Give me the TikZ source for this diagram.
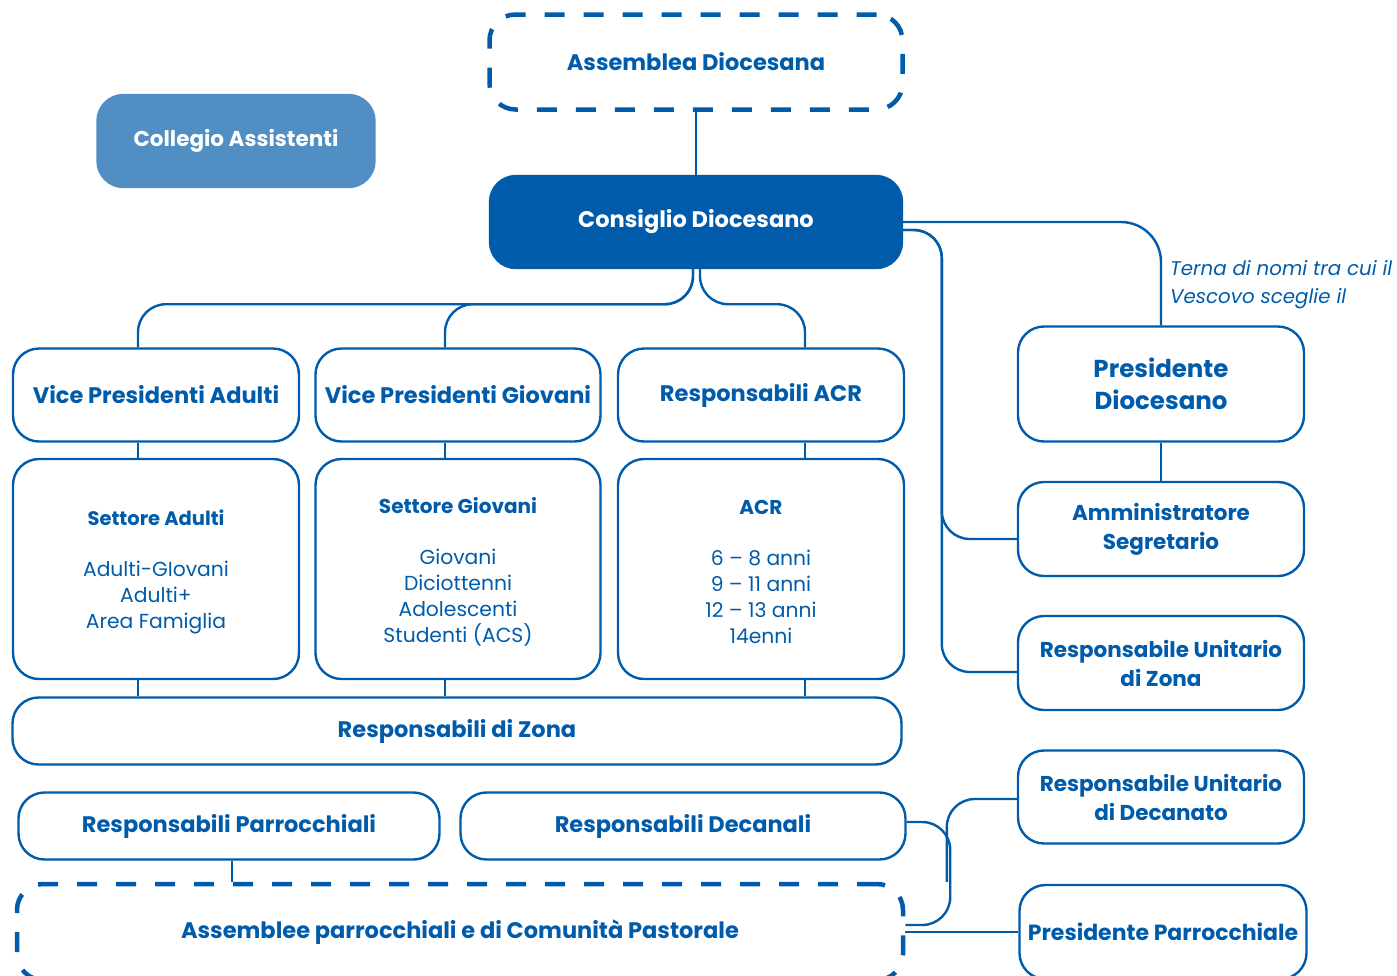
\documentclass[tikz,border=0pt]{standalone}
\usepackage{fontspec}
\setmainfont{Poppins}
\usetikzlibrary{positioning}
\definecolor{acblu}{RGB}{0,91,170}
\definecolor{accel}{RGB}{80,142,196}

\begin{document}
\begin{tikzpicture}[x=1pt, y=-1pt,
    box/.style={draw=acblu, line width=2.4pt, rounded corners=26pt, text=acblu, align=center, inner sep=0pt,
      font=\bfseries\fontsize{22.5}{28}\selectfont},
    sett/.style={box, font=\fontsize{20.3}{26}\selectfont},
    dashbox/.style={box, line width=4.5pt, dash pattern=on 20pt off 19pt},
    fullbox/.style={box, fill=acblu, text=white},
    conn/.style={draw=acblu, line width=2.4pt, rounded corners=28pt}]
  \path[use as bounding box] (0,0) rectangle (1397,975);
  \clip (0,0) rectangle (1397,975);

  %top
  \node[dashbox, minimum width=413pt, minimum height=95pt] (assd) at (696,62) {Assemblea Diocesana};
  \node[fullbox, fill=accel, draw=accel, minimum width=277pt, minimum height=92pt, font=\bfseries\fontsize{21.5}{28}\selectfont] (coll) at (236,141) {Collegio Assistenti};
  \node[fullbox, minimum width=412pt, minimum height=92pt] (cons) at (696,222) {Consiglio Diocesano};

  %vice presidenti
  \node[box, minimum width=286pt, minimum height=93pt] (vpa) at (156,395) {Vice Presidenti Adulti};
  \node[box, minimum width=285pt, minimum height=93pt] (vpg) at (458,395) {Vice Presidenti Giovani};
  \node[box, minimum width=286pt, minimum height=93pt] (racr) at (761,395) {Responsabili ACR};

  %settori
  \node[sett, minimum width=286pt, minimum height=220pt] (sa) at (156,569)
    {\textbf{\fontsize{19.5}{26}\selectfont\rule{0pt}{21pt}Settore Adulti}\\[25pt]Adulti-GIovani\\Adulti+\\Area Famiglia};
  \node[sett, minimum width=285pt, minimum height=220pt] (sg) at (458,569)
    {\textbf{\fontsize{20}{26}\selectfont\rule{0pt}{21pt}Settore Giovani}\\[25pt]Giovani\\Diciottenni\\Adolescenti\\Studenti (ACS)};
  \node[sett, minimum width=286pt, minimum height=220pt] (sacr) at (761,569)
    {\textbf{\fontsize{20}{26}\selectfont\rule{0pt}{21pt}ACR}\\[25pt]6 – 8 anni\\9 – 11 anni\\12 – 13 anni\\14enni};

  %zona e parrocchie
  \node[box, minimum width=889pt, minimum height=67pt] (zona) at (457,731) {Responsabili di Zona};
  \node[box, minimum width=421pt, minimum height=67pt] (parr) at (229,826) {Responsabili Parrocchiali};
  \node[box, minimum width=445pt, minimum height=67pt] (dec) at (683,826) {Responsabili Decanali};
  \node[dashbox, minimum width=886pt, minimum height=96pt] (assp) at (460,932) {Assemblee parrocchiali e di Comunità Pastorale};

  %colonna destra
  \node[box, minimum width=286pt, minimum height=115pt, font=\bfseries\fontsize{24.5}{32}\selectfont] (pd) at (1161,384) {Presidente\\Diocesano};
  \node[box, minimum width=286pt, minimum height=94pt, font=\bfseries\fontsize{21.5}{29}\selectfont] (amm) at (1161,529) {Amministratore\\Segretario};
  \node[box, minimum width=286pt, minimum height=94pt, font=\bfseries\fontsize{21.5}{29}\selectfont] (ruz) at (1161,663) {Responsabile Unitario\\di Zona};
  \node[box, minimum width=286pt, minimum height=93pt, font=\bfseries\fontsize{21.5}{29}\selectfont] (rud) at (1161,797) {Responsabile Unitario\\di Decanato};
  \node[box, minimum width=287pt, minimum height=94pt, font=\bfseries\fontsize{22}{28}\selectfont] (pp) at (1163,932) {Presidente Parrocchiale};

  %nota
  \node[anchor=north west, align=left, text=acblu, inner sep=0pt, font=\itshape\fontsize{19.8}{28}\selectfont] (terna) at (1170,260)
    {Terna di nomi tra cui il\\Vescovo sceglie il};

  %connectors
  \draw[conn] (assd.south) -- (cons.north);
  \draw[conn] ([xshift=-3pt]cons.south) -- ++(0,35) -| ([xshift=-18pt]vpa.north);
  \draw[conn] ([xshift=-3pt]cons.south) -- ++(0,35) -| ([xshift=-13pt]vpg.north);
  \draw[conn] ([xshift=4pt]cons.south) -- ++(0,35) -| ([xshift=44pt]racr.north);
  \draw[conn] ([xshift=-18pt]vpa.south) -- ([xshift=-18pt]sa.north);
  \draw[conn] ([xshift=-13pt]vpg.south) -- ([xshift=-13pt]sg.north);
  \draw[conn] ([xshift=44pt]racr.south) -- ([xshift=44pt]sacr.north);
  \draw[conn] ([xshift=-18pt]sa.south) -- ([xshift=-18pt]sa.south |- zona.north);
  \draw[conn] ([xshift=-13pt]sg.south) -- ([xshift=-13pt]sg.south |- zona.north);
  \draw[conn] ([xshift=44pt]sacr.south) -- ([xshift=44pt]sacr.south |- zona.north);
  \draw[conn] ([xshift=3pt]parr.south) -- ([xshift=3pt]parr.south |- assp.north);
  \draw[conn, rounded corners=40pt] (cons.east) -| (pd.north);
  \draw[conn] (pd.south) -- (amm.north);
  \draw[conn] ([yshift=-8pt]cons.east) -| ([xshift=-75pt,yshift=-10pt]amm.west) -- ([yshift=-10pt]amm.west);
  \draw[conn] ([yshift=-8pt]cons.east) -| ([xshift=-75pt,yshift=-9pt]ruz.west) -- ([yshift=-9pt]ruz.west);
  \draw[conn] ([yshift=4pt]dec.east) -| ([xshift=45pt,yshift=7pt]assp.east) -- ([yshift=7pt]assp.east);
  \draw[conn] ([xshift=-70pt]rud.west |- assp.north) |- ([yshift=-2pt]rud.west);
  \draw[conn] (assp.east) -- (pp.west);
\end{tikzpicture}
\end{document}
